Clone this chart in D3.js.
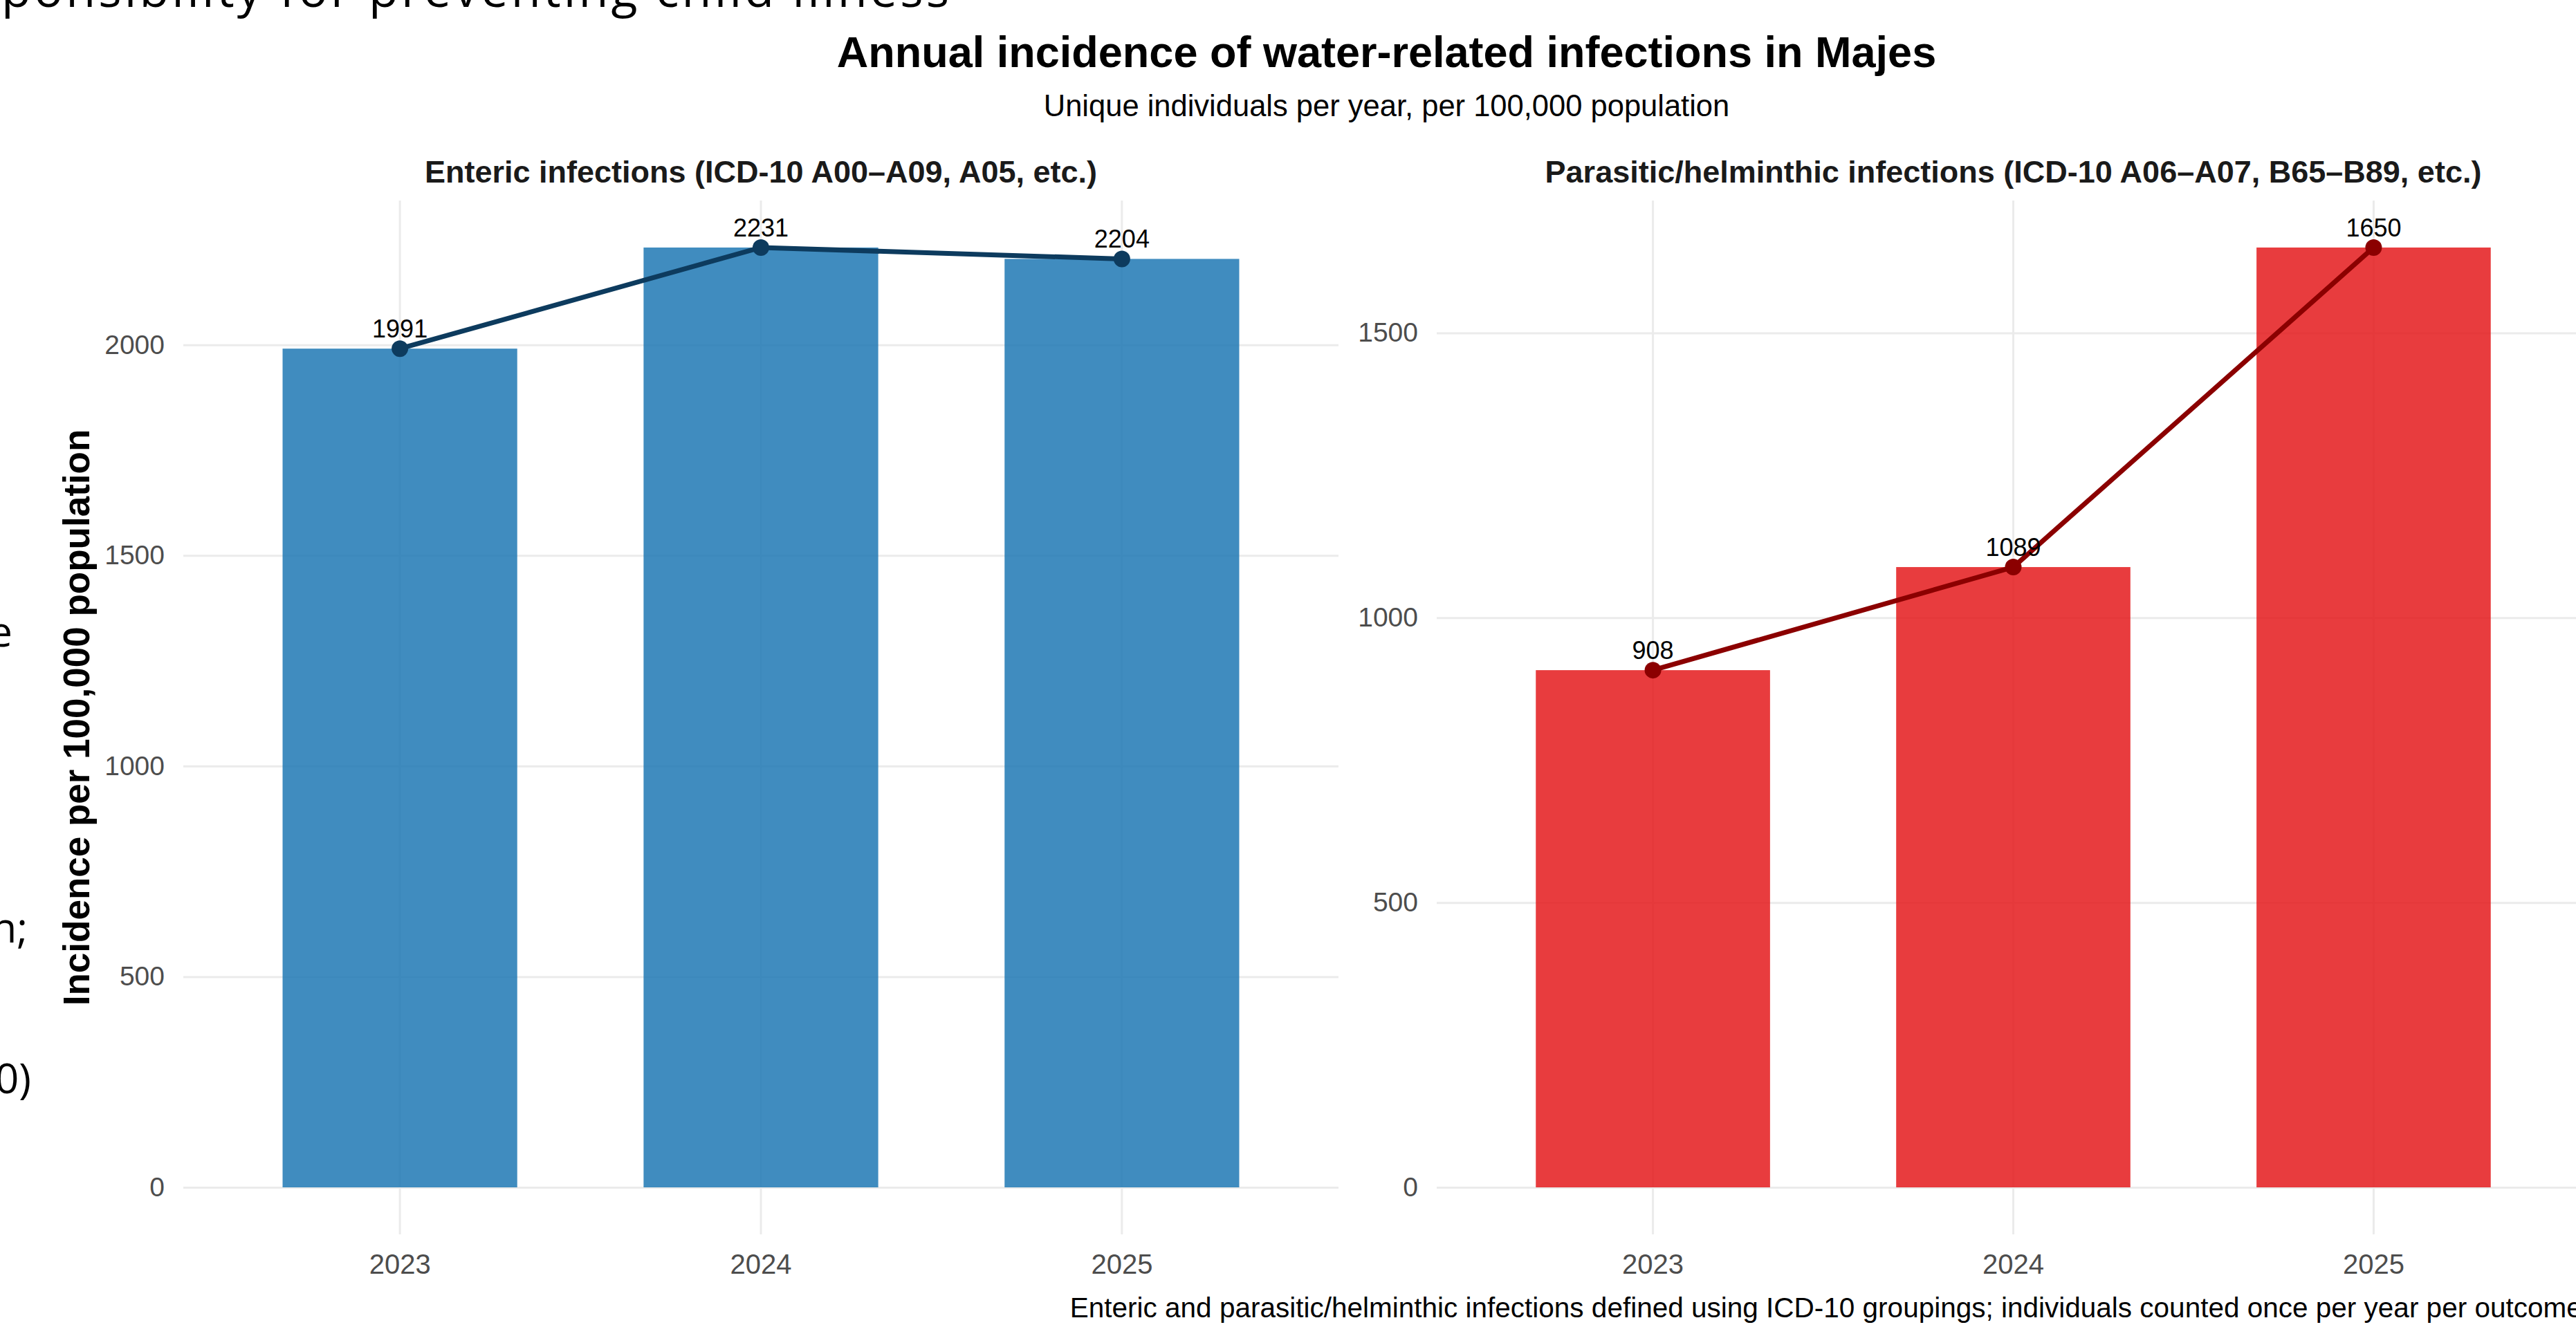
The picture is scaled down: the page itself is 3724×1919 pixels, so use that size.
<!DOCTYPE html>
<html>
<head>
<meta charset="utf-8">
<script src="https://cdn.jsdelivr.net/npm/d3@7"></script>
<style>
  html, body { margin: 0; padding: 0; background: #ffffff; overflow: hidden; }
  svg { display: block; }
</style>
</head>
<body>
<svg id="chart" width="3724" height="1919"></svg>
<script>
// ---------------- data ----------------
const years = ["2023", "2024", "2025"];
const entericValues = [1991, 2231, 2204];
const parasiticValues = [908, 1089, 1650];
const entericTicks = [0, 500, 1000, 1500, 2000];
const parasiticTicks = [0, 500, 1000, 1500];

const mainTitle = "Annual incidence of water-related infections in Majes";
const subTitle = "Unique individuals per year, per 100,000 population";
const entericTitle = "Enteric infections (ICD-10 A00\u2013A09, A05, etc.)";
const parasiticTitle = "Parasitic/helminthic infections (ICD-10 A06\u2013A07, B65\u2013B89, etc.)";
const yAxisTitle = "Incidence per 100,000 population";
const captionText = "Enteric and parasitic/helminthic infections defined using ICD-10 groupings; individuals counted once per year per outcome.";

// background slide text fragments (partially hidden behind the chart)
const slideTopText = "ponsibility for preventing child illness";
const slideSideFragments = ["e", "n;", "0)"];

// ---------------- layout ----------------
const svg = d3.select("#chart");
const FONT = "'Liberation Sans', Arial, Helvetica, sans-serif";
const SLIDE_FONT = "'Open Sans', 'Noto Sans', sans-serif";

svg.append("rect").attr("width", 3724).attr("height", 1919).attr("fill", "#ffffff");

// slide fragments
svg.append("text")
  .attr("x", 2).attr("y", 10)
  .attr("textLength", 1370).attr("lengthAdjust", "spacing")
  .style("font-family", SLIDE_FONT).style("font-size", "70px").attr("fill", "#000")
  .text(slideTopText);
const fragPos = [[18, 935], [40, 1363], [45, 1581]];
slideSideFragments.forEach((t, i) => {
  svg.append("text")
    .attr("x", fragPos[i][0]).attr("y", fragPos[i][1])
    .attr("text-anchor", "end")
    .style("font-family", SLIDE_FONT).style("font-size", "60px").attr("fill", "#000")
    .text(t);
});

const panelTop = 290, panelBottom = 1785;
const panels = [
  { L: 265, R: 1935, values: entericValues, ticks: entericTicks, fill: "#1F78B4", line: "#0D3B5E", title: entericTitle },
  { L: 2077, R: 3744, values: parasiticValues, ticks: parasiticTicks, fill: "#E41A1C", line: "#8B0000", title: parasiticTitle }
];

panels.forEach(p => {
  const maxV = d3.max(p.values);
  const x = d3.scaleBand().domain(years).range([p.L, p.R]).paddingInner(0.35).paddingOuter(0.275);
  const y = d3.scaleLinear().domain([-0.05 * maxV, maxV * 1.05]).range([panelBottom, panelTop]);
  const g = svg.append("g");

  // horizontal gridlines
  const gy = g.append("g").attr("transform", `translate(${p.L},0)`)
    .call(d3.axisLeft(y).tickValues(p.ticks).tickSize(-(p.R - p.L)).tickFormat(""));
  gy.select(".domain").remove();
  gy.selectAll("line").attr("stroke", "#EBEBEB").attr("stroke-width", 3);

  // vertical gridlines
  const gx = g.append("g").attr("transform", `translate(0,${panelBottom})`)
    .call(d3.axisBottom(x).tickSize(-(panelBottom - panelTop)).tickFormat(""));
  gx.select(".domain").remove();
  gx.selectAll("line").attr("stroke", "#EBEBEB").attr("stroke-width", 3);

  // y tick labels
  const ya = g.append("g").attr("transform", `translate(${p.L},0)`)
    .call(d3.axisLeft(y).tickValues(p.ticks).tickSize(0).tickPadding(27).tickFormat(d3.format("d")));
  ya.select(".domain").remove();
  ya.selectAll("text").style("font-family", FONT).style("font-size", "39px").attr("fill", "#4D4D4D");

  // x tick labels
  const xa = g.append("g").attr("transform", `translate(0,${panelBottom})`)
    .call(d3.axisBottom(x).tickSize(0).tickPadding(29));
  xa.select(".domain").remove();
  xa.selectAll("text").style("font-family", FONT).style("font-size", "40px").attr("fill", "#4D4D4D");

  // bars
  g.selectAll("rect.bar").data(years).enter().append("rect")
    .attr("class", "bar")
    .attr("x", d => x(d))
    .attr("width", x.bandwidth())
    .attr("y", (d, i) => y(p.values[i]))
    .attr("height", (d, i) => y(0) - y(p.values[i]))
    .attr("fill", p.fill).attr("fill-opacity", 0.85);

  const cx = d => x(d) + x.bandwidth() / 2;

  // line
  const line = d3.line().x((d, i) => cx(years[i])).y(d => y(d));
  g.append("path").datum(p.values)
    .attr("d", line).attr("fill", "none")
    .attr("stroke", p.line).attr("stroke-width", 7).attr("stroke-linejoin", "round");

  // points
  g.selectAll("circle.pt").data(p.values).enter().append("circle")
    .attr("class", "pt")
    .attr("cx", (d, i) => cx(years[i])).attr("cy", d => y(d))
    .attr("r", 12).attr("fill", p.line);

  // value labels
  g.selectAll("text.val").data(p.values).enter().append("text")
    .attr("class", "val")
    .attr("x", (d, i) => cx(years[i])).attr("y", d => y(d) - 16)
    .attr("text-anchor", "middle")
    .style("font-family", FONT).style("font-size", "36px").attr("fill", "#000")
    .text(d => d);

  // panel title
  svg.append("text")
    .attr("x", (p.L + p.R) / 2).attr("y", 264)
    .attr("text-anchor", "middle")
    .style("font-family", FONT).style("font-size", "45px").style("font-weight", "bold").attr("fill", "#1a1a1a")
    .text(p.title);
});

// y axis title
svg.append("text")
  .attr("transform", `translate(${129},${(panelTop + panelBottom) / 2}) rotate(-90)`)
  .attr("text-anchor", "middle")
  .style("font-family", FONT).style("font-size", "53px").style("font-weight", "bold").attr("fill", "#000")
  .text(yAxisTitle);

// title & subtitle
const centerX = (panels[0].L + panels[1].R) / 2;
svg.append("text")
  .attr("x", centerX).attr("y", 97).attr("text-anchor", "middle")
  .style("font-family", FONT).style("font-size", "63px").style("font-weight", "bold").attr("fill", "#000")
  .text(mainTitle);
svg.append("text")
  .attr("x", centerX).attr("y", 168).attr("text-anchor", "middle")
  .style("font-family", FONT).style("font-size", "43.5px").attr("fill", "#000")
  .text(subTitle);

// caption (right-aligned to the panel edge, runs past the window edge as in the reference)
svg.append("text")
  .attr("x", panels[1].R).attr("y", 1905)
  .attr("text-anchor", "end")
  .style("font-family", FONT).style("font-size", "40.5px").attr("fill", "#000")
  .text(captionText);
</script>
</body>
</html>
